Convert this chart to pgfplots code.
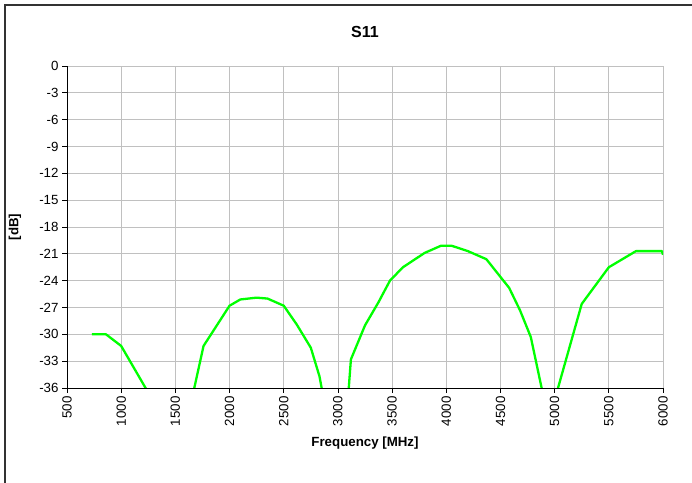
\documentclass[border=0pt]{standalone}
\usepackage{pgfplots}
\pgfplotsset{compat=1.18}
\usepackage{fontspec}
\setmainfont{Liberation Sans}
\definecolor{curve}{HTML}{00FF00}
\definecolor{gridc}{HTML}{C0C0C0}

\begin{document}
\begin{tikzpicture}
\useasboundingbox (0,0) rectangle (692bp,483bp);
% chart frame (only left and top edges show)
\draw[line width=1.4bp, black!80] (5bp,-10bp) -- (5bp,478bp) -- (710bp,478bp);
\begin{axis}[
    at={(67bp,95bp)}, anchor=south west,
    scale only axis,
    width=596bp, height=322bp,
    xmin=500, xmax=6000,
    ymin=-36, ymax=0,
    xtick={500,1000,...,6000},
    ytick={-36,-33,...,0},
    axis x line*=bottom, axis y line*=left,
    axis line style={black, line width=0.9bp},
    grid=major,
    major grid style={gridc, line width=0.8bp},
    tick align=outside,
    major tick length=5bp,
    tick style={black, line width=0.8bp},
    x tick label style={rotate=90, anchor=east, font=\fontsize{13.3bp}{16bp}\selectfont},
    y tick label style={font=\fontsize{13.3bp}{16bp}\selectfont},
    /pgf/number format/assume math mode=true,
    /pgf/number format/set thousands separator={},
    xticklabel style={xshift=0bp},
]
\addplot[curve, line width=2.3bp, line join=round] coordinates {
    (730,-30.0) (860,-30.0) (1000,-31.3) (1551,-42.8) (1760,-31.3)
    (2000,-26.8) (2100,-26.1) (2250,-25.9) (2350,-26.0) (2500,-26.8)
    (2620,-28.9) (2750,-31.5) (2830,-34.7) (3028,-47.6) (3120,-32.8)
    (3250,-29.0) (3375,-26.4) (3480,-24.0) (3600,-22.5) (3800,-20.9)
    (3950,-20.1) (4050,-20.1) (4200,-20.7) (4370,-21.6) (4580,-24.8)
    (4680,-27.3) (4780,-30.3) (4945,-39.7) (5250,-26.6) (5500,-22.5)
    (5750,-20.7) (5990,-20.7) (6000,-21.1)
};
\end{axis}
\node[font=\bfseries\fontsize{16bp}{19bp}\selectfont] at (365bp,451bp) {S11};
\node[font=\bfseries\fontsize{13.3bp}{16bp}\selectfont, rotate=90] at (15bp,256bp) {[dB]};
\node[font=\bfseries\fontsize{13.3bp}{16bp}\selectfont] at (365bp,40bp) {Frequency [MHz]};
\end{tikzpicture}
\end{document}
